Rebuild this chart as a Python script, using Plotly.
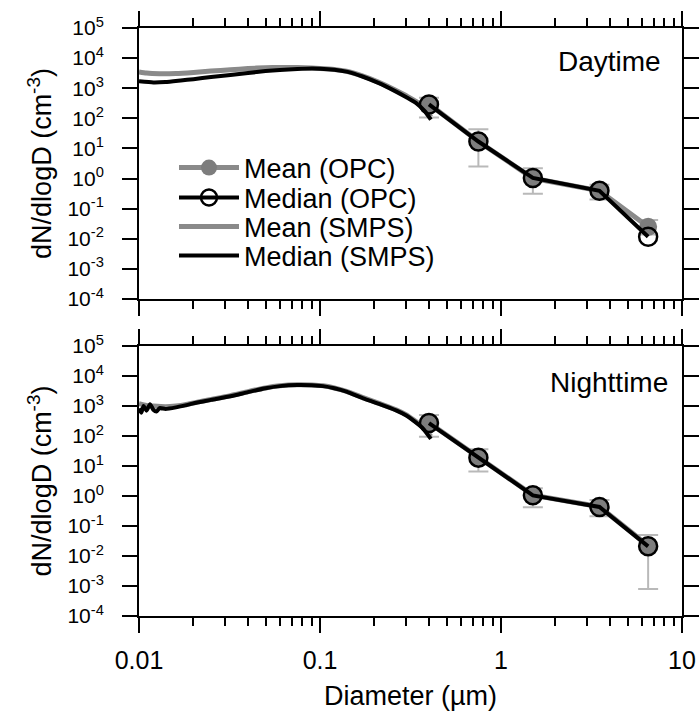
import plotly.graph_objects as go

# ---------------- data ----------------
opc_d = [0.40, 0.75, 1.5, 3.5, 6.5]

day_opc_mean = [300, 17, 1.02, 0.39, 0.025]
day_opc_median = [290, 17, 1.05, 0.39, 0.0117]
day_opc_upper = [485, 43, 2.2, 0.62, 0.042]
day_opc_lower = [107, 2.5, 0.31, 0.20, 0.014]

night_opc_mean = [277, 19.5, 1.07, 0.44, 0.022]
night_opc_median = [270, 19, 1.05, 0.43, 0.021]
night_opc_upper = [500, 36, 1.8, 0.74, 0.05]
night_opc_lower = [95, 6.5, 0.42, 0.21, 0.0008]

day_smps_mean_d = [0.010, 0.011, 0.013, 0.016, 0.020, 0.025, 0.032, 0.040, 0.050, 0.060,
                   0.075, 0.090, 0.100, 0.120, 0.140, 0.170, 0.210, 0.260, 0.300, 0.340,
                   0.380, 0.410]
day_smps_mean = [3500, 3200, 3050, 3100, 3350, 3700, 4100, 4500, 4800, 4900,
                 4850, 4700, 4550, 4200, 3650, 2600, 1600, 880, 560, 360,
                 200, 110]

day_smps_median_d = [0.010, 0.012, 0.014, 0.017, 0.020, 0.025, 0.032, 0.040, 0.050, 0.060,
                     0.075, 0.090, 0.100, 0.120, 0.140, 0.170, 0.210, 0.260, 0.300, 0.340,
                     0.380, 0.410]
day_smps_median = [1700, 1550, 1600, 1800, 2000, 2350, 2750, 3200, 3700, 4050,
                   4350, 4500, 4450, 4100, 3550, 2500, 1500, 800, 500, 320,
                   170, 90]

night_smps_mean_d = [0.010, 0.011, 0.012, 0.014, 0.016, 0.018, 0.021, 0.025, 0.032, 0.040,
                     0.050, 0.060, 0.075, 0.090, 0.104, 0.120, 0.140, 0.173, 0.210, 0.265,
                     0.300, 0.330, 0.370, 0.410]
night_smps_mean = [1200, 1050, 1000, 950, 1000, 1100, 1350, 1650, 2200, 3000,
                   4000, 4700, 5100, 5000, 4700, 4000, 3100, 1900, 1250, 740,
                   510, 340, 200, 95]

night_smps_median_d = [0.0100, 0.0103, 0.0106, 0.0110, 0.0115, 0.0120, 0.0125, 0.0130, 0.0140,
                       0.016, 0.018, 0.021, 0.025, 0.032, 0.040, 0.050, 0.060, 0.075, 0.090,
                       0.104, 0.120, 0.140, 0.173, 0.210, 0.265, 0.300, 0.330, 0.370, 0.410]
night_smps_median = [830, 600, 1000, 700, 1150, 750, 650, 850, 800,
                     900, 1050, 1300, 1600, 2100, 2900, 3900, 4600, 5000, 4900,
                     4600, 3900, 3000, 1800, 1200, 700, 480, 320, 180, 80]

y_exps = [-4, -3, -2, -1, 0, 1, 2, 3, 4, 5]
x_ticks = [0.01, 0.1, 1, 10]
x_ticktext = ["0.01", "0.1", "1", "10"]
legend_names = ["Mean (OPC)", "Median (OPC)", "Mean (SMPS)", "Median (SMPS)"]

# ---------------- style ----------------
FONT = "Liberation Sans, Arial, sans-serif"
GRAY = "#8a8a8a"
ERR = "#b9b9b9"
W, H = 699, 715
L, R, T, B = 139, 17, 28, 99
plot_h = H - T - B


def py(p):
    return (H - B - p) / plot_h


def px(p):
    return (p - L) / (W - L - R)


fig = go.Figure()

panels = [
    ("x", "y", day_opc_mean, day_opc_median, day_opc_upper, day_opc_lower,
     day_smps_mean_d, day_smps_mean, day_smps_median_d, day_smps_median, True),
    ("x2", "y2", night_opc_mean, night_opc_median, night_opc_upper, night_opc_lower,
     night_smps_mean_d, night_smps_mean, night_smps_median_d, night_smps_median, False),
]

for (xa, ya, om, omed, oup, olo, smd, sm, smedd, smed, show) in panels:
    fig.add_trace(go.Scatter(
        x=smd, y=sm, xaxis=xa, yaxis=ya, mode="lines", name=legend_names[2],
        line=dict(color=GRAY, width=5, shape="spline", smoothing=0.6),
        showlegend=show, legend="legend3"))
    fig.add_trace(go.Scatter(
        x=opc_d, y=om, xaxis=xa, yaxis=ya, mode="lines+markers", name=legend_names[0],
        line=dict(color=GRAY, width=5),
        marker=dict(color="#7d7d7d", size=18, line=dict(width=0)),
        error_y=dict(type="data", symmetric=False,
                     array=[u - m for u, m in zip(oup, om)],
                     arrayminus=[m - lo for m, lo in zip(om, olo)],
                     color=ERR, thickness=2, width=10),
        showlegend=show, legend="legend"))
    fig.add_trace(go.Scatter(
        x=opc_d, y=omed, xaxis=xa, yaxis=ya, mode="lines+markers", name=legend_names[1],
        line=dict(color="black", width=4),
        marker=dict(symbol="circle-open", color="black", size=18, line=dict(width=2.5)),
        showlegend=show, legend="legend2"))
    fig.add_trace(go.Scatter(
        x=smedd, y=smed, xaxis=xa, yaxis=ya, mode="lines", name=legend_names[3],
        line=dict(color="black", width=4, shape="spline", smoothing=0.5),
        showlegend=show, legend="legend4"))

xcommon = dict(
    type="log", range=[-2, 1], showline=True, linecolor="black", linewidth=2,
    mirror="allticks", ticks="outside", ticklen=15, tickwidth=2, tickcolor="black",
    tickvals=x_ticks, ticktext=x_ticktext, showgrid=False, zeroline=False,
    automargin=False,
    minor=dict(ticks="outside", ticklen=8, tickwidth=2, tickcolor="black", dtick="D1",
               showgrid=False),
    tickfont=dict(family=FONT, size=25, color="black"),
)
ycommon = dict(
    type="log", range=[-4, 5], showline=True, linecolor="black", linewidth=2,
    mirror="allticks", ticks="outside", ticklen=15, tickwidth=2, tickcolor="black",
    tickvals=[10 ** e for e in y_exps],
    ticktext=["10<sup>%d</sup>" % e for e in y_exps],
    showgrid=False, zeroline=False, automargin=False,
    tickfont=dict(family=FONT, size=21, color="black"),
    ticklabelstandoff=14,
    title=dict(text="dN/dlogD (cm<sup>-3</sup>)", font=dict(family=FONT, size=27, color="black"),
               standoff=8),
)

top_dom = [py(299), 1.0]
bot_dom = [0.0, py(346)]

legend_rows = [168, 198, 227, 256]
leg_common = dict(x=px(174), xanchor="left", yanchor="middle", bgcolor="rgba(0,0,0,0)",
                  borderwidth=0, font=dict(family=FONT, size=27, color="black"),
                  itemwidth=60)

fig.update_layout(
    width=W, height=H, margin=dict(l=L, r=R, t=T, b=B),
    paper_bgcolor="white", plot_bgcolor="white",
    font=dict(family=FONT, color="black"),
    xaxis=dict(**xcommon, domain=[0, 1], anchor="y", showticklabels=False),
    yaxis=dict(**ycommon, domain=top_dom, anchor="x"),
    xaxis2=dict(**xcommon, domain=[0, 1], anchor="y2", showticklabels=True,
                ticklabelstandoff=6,
                title=dict(text="Diameter (\u00b5m)", font=dict(family=FONT, size=27, color="black"),
                           standoff=13)),
    yaxis2=dict(**ycommon, domain=bot_dom, anchor="x2"),
    legend=dict(**leg_common, y=py(legend_rows[0])),
    legend2=dict(**leg_common, y=py(legend_rows[1])),
    legend3=dict(**leg_common, y=py(legend_rows[2])),
    legend4=dict(**leg_common, y=py(legend_rows[3])),
    annotations=[
        dict(text="Daytime", xref="paper", yref="paper", x=px(663), y=py(62),
             xanchor="right", yanchor="middle", showarrow=False,
             font=dict(family=FONT, size=28, color="black")),
        dict(text="Nighttime", xref="paper", yref="paper", x=px(670), y=py(383),
             xanchor="right", yanchor="middle", showarrow=False,
             font=dict(family=FONT, size=28, color="black")),
    ],
)

fig.write_html("out.html")
